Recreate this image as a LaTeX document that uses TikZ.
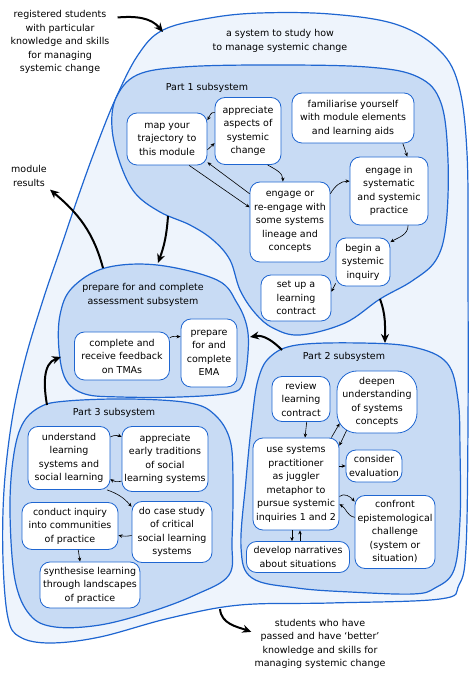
\documentclass[tikz,border=0pt]{standalone}
\usepackage{fontspec}
\setmainfont{DejaVu Sans}
\usetikzlibrary{arrows.meta}

\definecolor{sysline}{HTML}{1F66D1}
\definecolor{sysfill}{HTML}{EEF4FC}
\definecolor{subfill}{HTML}{C8DBF4}

\begin{document}
\begin{tikzpicture}[x=1pt,y=1pt,
	font=\fontsize{9.5}{13.5}\selectfont,
	outersys/.style={draw=sysline,fill=sysfill,line width=1.2pt},
	subsys/.style={draw=sysline,fill=subfill,line width=1.2pt},
	activity/.style={draw=sysline,fill=white,line width=0.8pt,rounded corners=10pt,align=center,inner sep=2pt},
	blurb/.style={align=center,inner sep=3pt},
	flow/.style={-{Stealth[length=4pt,width=3.5pt]},line width=0.6pt},
	bigflow/.style={-{Stealth[length=9pt,width=8pt]},line width=2pt}]

	\useasboundingbox (0,0) rectangle (474,673);

	% Outer system
	\draw[outersys] plot[smooth cycle,tension=0.6] coordinates {
		(163,643) (210,655) (260,660) (330,659) (395,649) (437,625) (458,590)
		(467,520) (468,400) (468,250) (466,125) (459,88) (440,74) (330,70)
		(240,68) (170,55) (100,36) (50,30) (20,36) (8,55) (3,113) (4,183)
		(12,253) (25,313) (43,373) (60,423) (77,473) (95,523) (115,573) (138,618)};

	% Subsystems
	\draw[subsys] plot[smooth cycle,tension=0.6] coordinates {
		(137,598) (183,606) (267,608) (367,606) (418,596) (441,570) (448,513)
		(446,448) (436,413) (412,392) (380,374) (345,350) (300,338) (273,345)
		(255,360) (240,383) (230,413) (213,433) (190,448) (160,461) (135,480)
		(120,510) (112,545) (116,575)};
	\draw[subsys] plot[smooth cycle,tension=0.6] coordinates {
		(105,405) (157,408) (217,393) (237,370) (247,346) (248,320) (243,290)
		(230,280) (180,276) (120,276) (85,279) (66,293) (59,323) (60,358) (72,385)};
	\draw[subsys] plot[smooth cycle,tension=0.6] coordinates {
		(270,316) (297,328) (360,330) (413,326) (447,310) (458,273) (460,223)
		(460,153) (454,103) (435,85) (413,79) (350,81) (297,85) (252,95)
		(241,126) (246,193) (252,253) (258,293)};
	\draw[subsys] plot[smooth cycle,tension=0.6] coordinates {
		(40,266) (67,272) (130,274) (190,270) (215,258) (230,233) (233,193)
		(232,133) (229,98) (195,78) (150,61) (100,48) (55,46) (30,58)
		(15,93) (10,160) (13,213) (22,248)};

	% Titles and outside texts
	\node[blurb] (registered) at (60,631) {registered students\\with particular\\knowledge and skills\\for managing\\systemic change};
	\node[blurb] (results) at (29,497) {module\\results};
	\node[blurb] (passed) at (320,29) {students who have\\passed and have `better'\\knowledge and skills for\\managing systemic change};
	\node[blurb] (systitle) at (280,632) {a system to study how\\to manage systemic change};
	\node[blurb] (p1title) at (207,585) {Part 1 subsystem};
	\node[blurb] (astitle) at (143,378) {prepare for and complete\\assessment subsystem};
	\node[blurb] (p2title) at (344,316) {Part 2 subsystem};
	\node[blurb] (p3title) at (114,260) {Part 3 subsystem};

	% Part 1 activities
	\node[activity,minimum width=80pt,minimum height=52pt] (map) at (167,534) {map your\\trajectory to\\this module};
	\node[activity,minimum width=66pt,minimum height=67pt] (apprec) at (248,542) {appreciate\\aspects of\\systemic\\change};
	\node[activity,minimum width=122pt,minimum height=50pt] (famil) at (353,555) {familiarise yourself\\with module elements\\and learning aids};
	\node[activity,minimum width=80pt,minimum height=80pt] (reengage) at (290,451) {engage or\\re-engage with\\some systems\\lineage and\\concepts};
	\node[activity,minimum width=78pt,minimum height=68pt] (practice) at (389,482) {engage in\\systematic\\and systemic\\practice};
	\node[activity,minimum width=54pt,minimum height=48pt] (begin) at (363,411) {begin a\\systemic\\inquiry};
	\node[activity,minimum width=70pt,minimum height=46pt] (contract) at (296,375) {set up a\\learning\\contract};

	% Assessment activities
	\node[activity,minimum width=95pt,minimum height=48pt] (tma) at (122,317) {complete and\\receive feedback\\on TMAs};
	\node[activity,minimum width=56pt,minimum height=68pt] (ema) at (209,320) {prepare\\for and\\complete\\EMA};

	% Part 2 activities
	\node[activity,minimum width=58pt,minimum height=45pt] (review) at (301,274) {review\\learning\\contract};
	\node[activity,rounded corners=20pt,minimum width=80pt,minimum height=62pt] (deepen) at (377,271) {deepen\\understanding\\of systems\\concepts};
	\node[activity,minimum width=86pt,minimum height=92pt] (juggler) at (296,189) {use systems\\practitioner\\as juggler\\metaphor to\\pursue systemic\\inquiries 1 and 2};
	\node[activity,minimum width=56pt,minimum height=32pt] (evaluation) at (374,207) {consider\\evaluation};
	\node[activity,minimum width=80pt,minimum height=73pt] (confront) at (395,141) {confront\\epistemological\\challenge\\(system or\\situation)};
	\node[activity,minimum width=103pt,minimum height=31pt] (narratives) at (298,116) {develop narratives\\about situations};

	% Part 3 activities
	\node[activity,minimum width=82pt,minimum height=63pt] (understand) at (69,215) {understand\\learning\\systems and\\social learning};
	\node[activity,minimum width=86pt,minimum height=65pt] (traditions) at (165,214) {appreciate\\early traditions\\of social\\learning systems};
	\node[activity,minimum width=96pt,minimum height=47pt] (commune) at (70,147) {conduct inquiry\\into communities\\of practice};
	\node[activity,minimum width=80pt,minimum height=61pt] (casestudy) at (172,141) {do case study\\of critical\\social learning\\systems};
	\node[activity,minimum width=100pt,minimum height=46pt] (synthesise) at (90,88) {synthesise learning\\through landscapes\\of practice};

	% Part 1 flows
	\draw[flow] (apprec.151) to[out=170,in=60] (map.25);
	\draw[flow] (map.-15) -- (apprec.200);
	\draw[flow] (reengage.145) -- (map.-30);
	\draw[flow] (map.-50) -- (reengage.160);
	\draw[flow] (apprec.-60) to[out=-30,in=90] (reengage.100);
	\draw[flow] (reengage.35) to[out=60,in=180] (practice.166);
	\draw[flow] (famil.-27) -- (practice.62);
	\draw[flow] (practice.-61) to[out=-90,in=30] (begin.36);
	\draw[flow] (begin.218) -- (contract.10);

	% Assessment flow
	\draw[flow] (tma.21) to[out=30,in=180] (ema.150);

	% Part 2 flows
	\draw[flow] (review.-76) -- (juggler.79);
	\draw[flow] ([xshift=-8pt]juggler.north east) -- ([shift={(3pt,10pt)}]deepen.south west);
	\draw[flow] ([shift={(10pt,3pt)}]deepen.south west) -- ([yshift=-8pt]juggler.north east);
	\draw[flow] (juggler.east |- evaluation.west) -- (evaluation.west);
	\draw[flow] (juggler.-16) to[out=40,in=130] (confront.143);
	\draw[flow] (confront.160) to[out=170,in=-30] (juggler.-25);
	\draw[flow] ([xshift=-4pt]juggler.south) -- ([xshift=-6pt]narratives.north);
	\draw[flow] ([xshift=2pt]narratives.north) -- ([xshift=4pt]juggler.south);

	% Part 3 flows
	\draw[flow] (understand.27) to[bend left=25] (traditions.153);
	\draw[flow] (traditions.207) to[bend left=25] (understand.-27);
	\draw[flow] (understand.-40) to[bend left=15] (casestudy.148);
	\draw[flow] (casestudy.185) to[bend left=10] (commune.-11);
	\draw[flow] (commune.-71) -- (synthesise.113);

	% Flows between subsystems
	\coordinate (sysIn) at (163,641);
	\coordinate (sysOut) at (220,64);
	\coordinate (p1Out) at (168,457);
	\coordinate (p1Down) at (380,374);
	\coordinate (p2In) at (385,330);
	\coordinate (p2Out) at (282,323);
	\coordinate (p3Out) at (47,268);
	\coordinate (asIn) at (158,410);
	\coordinate (asRight) at (250,336);
	\coordinate (asLeft) at (61,316);
	\coordinate (asOut) at (103,405);

	\draw[bigflow] ([xshift=5pt]registered.25) to[out=5,in=130] (sysIn);
	\draw[bigflow] (p1Out) to[bend left=8] (asIn);
	\draw[bigflow] (asOut) to[out=105,in=-40] (results.south east);
	\draw[bigflow] (p1Down) to[out=-70,in=90] (p2In);
	\draw[bigflow] (p2Out) to[out=135,in=10] (asRight);
	\draw[bigflow] (p3Out) to[out=100,in=200] (asLeft);
	\draw[bigflow] (sysOut) to[out=-85,in=160] (passed.170);

\end{tikzpicture}
\end{document}
